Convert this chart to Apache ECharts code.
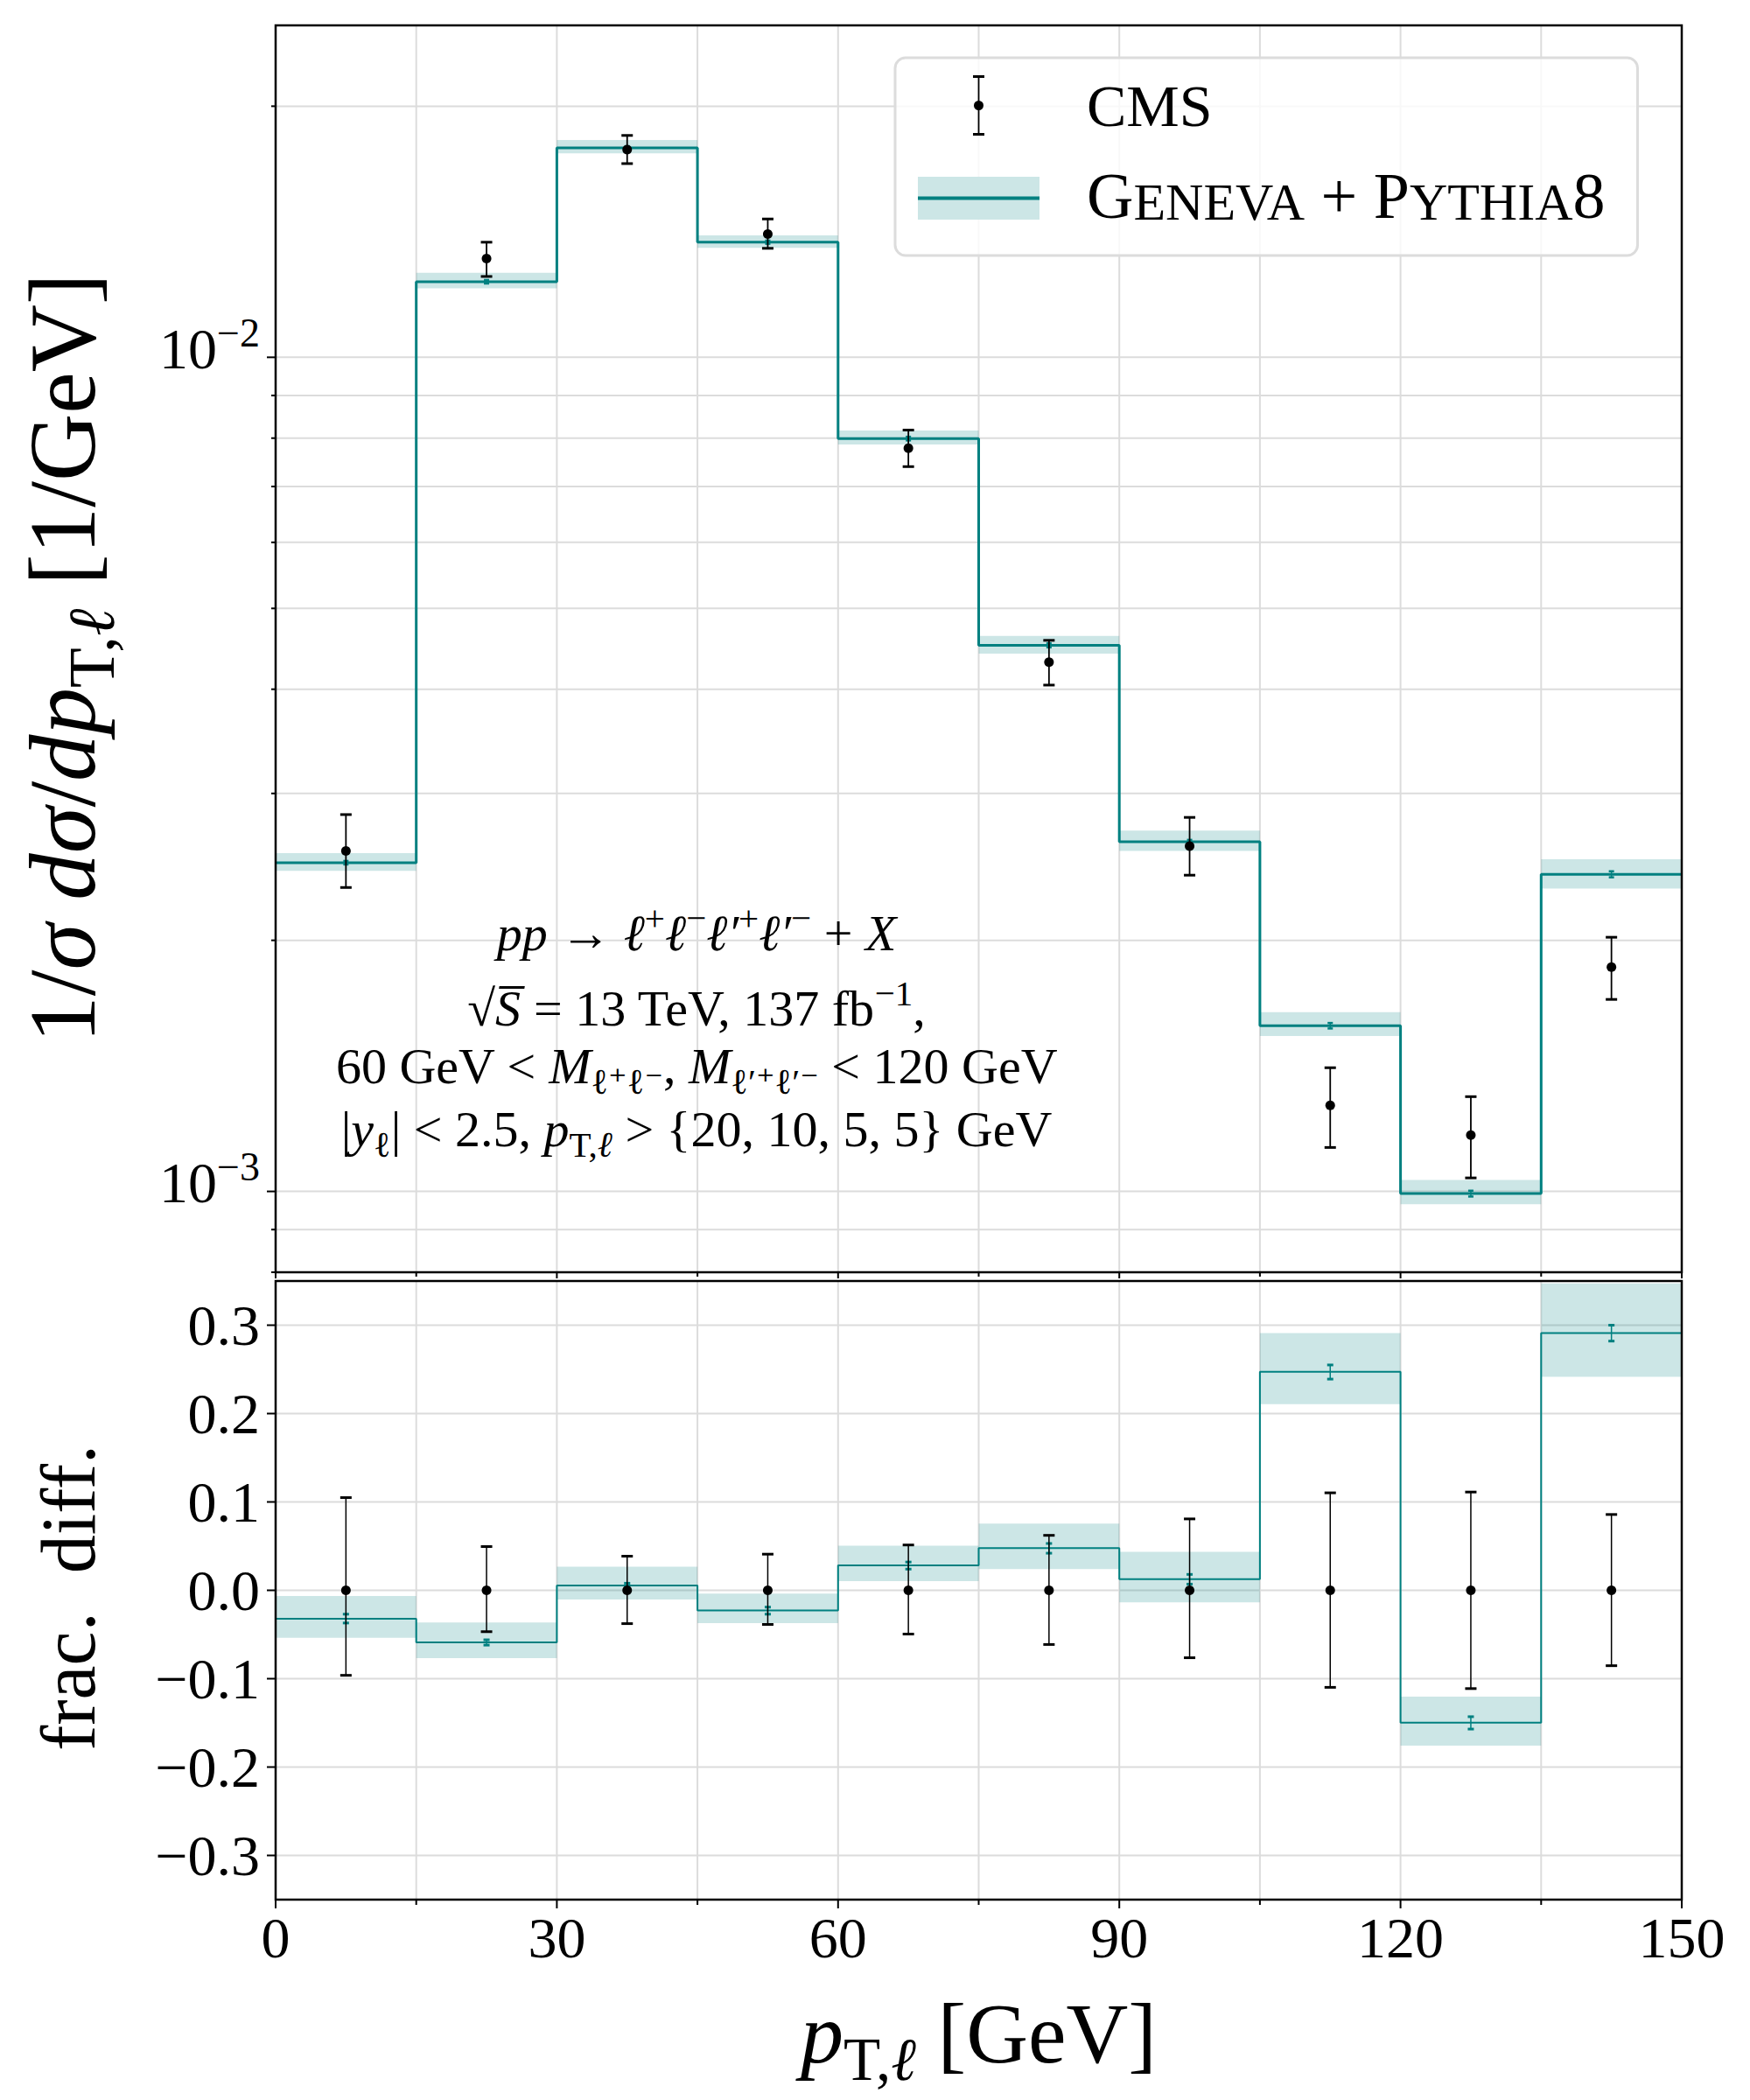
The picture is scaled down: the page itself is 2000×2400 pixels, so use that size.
<!DOCTYPE html>
<html><head><meta charset="utf-8">
<script src="https://cdn.jsdelivr.net/npm/echarts@6/dist/echarts.min.js"></script>
<style>html,body{margin:0;padding:0;background:#fff}#c{width:2000px;height:2400px}</style>
</head><body><div id="c"></div><script>
// ---------------- data ----------------
const binEdges   = [0, 15, 30, 45, 60, 75, 90, 105, 120, 135, 150];
const binCenters = [7.5, 22.5, 37.5, 52.5, 67.5, 82.5, 97.5, 112.5, 127.5, 142.5];

const cmsValues = [2.56e-3, 1.313e-2, 1.774e-2, 1.405e-2, 7.78e-3, 4.31e-3, 2.594e-3, 1.268e-3, 1.168e-3, 1.858e-3];
const cmsErrLo  = [2.314e-3, 1.250e-2, 1.707e-2, 1.351e-2, 7.395e-3, 4.046e-3, 2.394e-3, 1.129e-3, 1.038e-3, 1.699e-3];
const cmsErrHi  = [2.830e-3, 1.374e-2, 1.845e-2, 1.465e-2, 8.18e-3, 4.578e-3, 2.808e-3, 1.407e-3, 1.299e-3, 2.017e-3];

const genevaValues = [2.478e-3, 1.232e-2, 1.783e-2, 1.374e-2, 7.99e-3, 4.515e-3, 2.625e-3, 1.580e-3, 9.94e-4, 2.400e-3];
const genevaBandLo = [2.423e-3, 1.210e-2, 1.756e-2, 1.353e-2, 7.861e-3, 4.414e-3, 2.560e-3, 1.536e-3, 9.65e-4, 2.307e-3];
const genevaBandHi = [2.544e-3, 1.263e-2, 1.822e-2, 1.400e-2, 8.172e-3, 4.635e-3, 2.708e-3, 1.640e-3, 1.032e-3, 2.502e-3];
const genevaStatLo = [2.466e-3, 1.226e-2, 1.775e-2, 1.368e-2, 7.95e-3, 4.49e-3, 2.611e-3, 1.568e-3, 9.86e-4, 2.380e-3];
const genevaStatHi = [2.490e-3, 1.238e-2, 1.791e-2, 1.380e-2, 8.03e-3, 4.54e-3, 2.639e-3, 1.592e-3, 1.002e-3, 2.420e-3];

const ratioCms      = [0, 0, 0, 0, 0, 0, 0, 0, 0, 0];
const ratioCmsErrLo = [-0.0962, -0.0468, -0.0377, -0.0386, -0.0495, -0.0613, -0.0763, -0.1098, -0.1112, -0.0853];
const ratioCmsErrHi = [0.1049, 0.0495, 0.0386, 0.0409, 0.0513, 0.0622, 0.0808, 0.1103, 0.1112, 0.0858];
const ratioGeneva   = [-0.0322, -0.059, 0.0054, -0.0227, 0.0281, 0.0477, 0.0127, 0.2474, -0.1498, 0.291];
const ratioBandLo   = [-0.0536, -0.0767, -0.0104, -0.0372, 0.0104, 0.0241, -0.0136, 0.2106, -0.1757, 0.2415];
const ratioBandHi   = [-0.0064, -0.0363, 0.0268, -0.0036, 0.0504, 0.0754, 0.0436, 0.291, -0.1203, 0.3473];
const ratioStatLo   = [-0.037, -0.062, -0.002, -0.027, 0.024, 0.042, 0.007, 0.239, -0.157, 0.282];
const ratioStatHi   = [-0.027, -0.056, 0.008, -0.019, 0.032, 0.053, 0.018, 0.255, -0.143, 0.300];

const xMajorTicks    = [0, 30, 60, 90, 120, 150];
const xMinorTicks    = [15, 45, 75, 105, 135];
const yTopMajorTicks = [1e-3, 1e-2];
const yTopMinorTicks = [8e-4, 9e-4, 2e-3, 3e-3, 4e-3, 5e-3, 6e-3, 7e-3, 8e-3, 9e-3, 2e-2];
const yBottomTicks   = [-0.3, -0.2, -0.1, 0, 0.1, 0.2, 0.3];

const seriesNames = ['CMS', 'Geneva + Pythia8'];

// ---------------- style ----------------
const FF = "'Liberation Serif','DejaVu Serif','Times New Roman',serif";
const TEAL = '#008080';
const BAND = 'rgba(0,128,128,0.2)';
const GRID = '#dcdcdc';

// main tokens centred in a tall line; subscripts sit at the line bottom, superscripts at the top
function mathRich(F) {
  const H = Math.round(1.31 * F), f = Math.round(0.7 * F);
  const base = {fontFamily: FF, fill: '#000', color: '#000'};
  return {
    r:  Object.assign({}, base, {fontSize: F, lineHeight: H, verticalAlign: 'middle'}),
    i:  Object.assign({}, base, {fontSize: F, lineHeight: H, verticalAlign: 'middle', fontStyle: 'italic'}),
    b:  Object.assign({}, base, {fontSize: f, lineHeight: f, verticalAlign: 'bottom'}),
    bi: Object.assign({}, base, {fontSize: f, lineHeight: f, verticalAlign: 'bottom', fontStyle: 'italic'}),
    p:  Object.assign({}, base, {fontSize: f, lineHeight: f, verticalAlign: 'top'})
  };
}

// ---------------- helper series ----------------
function vLines(gi, yRef, values, tickLen) {
  return {type: 'custom', xAxisIndex: gi, yAxisIndex: gi, z: 1, silent: true,
    data: values.map(v => [v, yRef]),
    renderItem: (params, api) => {
      const cs = params.coordSys, x = api.coord([api.value(0), api.value(1)])[0], b = cs.y + cs.height;
      return {type: 'group', children: [
        {type: 'line', shape: {x1: x, y1: cs.y, x2: x, y2: b}, style: {stroke: GRID, lineWidth: 2}},
        {type: 'line', shape: {x1: x, y1: b, x2: x, y2: b + tickLen}, style: {stroke: '#000', lineWidth: 2}}
      ]};
    }};
}
function hLines(gi, xRef, values, tickLen) {
  return {type: 'custom', xAxisIndex: gi, yAxisIndex: gi, z: 1, silent: true,
    data: values.map(v => [xRef, v]),
    renderItem: (params, api) => {
      const cs = params.coordSys, y = api.coord([api.value(0), api.value(1)])[1];
      return {type: 'group', children: [
        {type: 'line', shape: {x1: cs.x, y1: y, x2: cs.x + cs.width, y2: y}, style: {stroke: GRID, lineWidth: 2}},
        {type: 'line', shape: {x1: cs.x - tickLen, y1: y, x2: cs.x, y2: y}, style: {stroke: '#000', lineWidth: 2}}
      ]};
    }};
}
function bandSeries(gi, lo, hi) {
  return {type: 'custom', xAxisIndex: gi, yAxisIndex: gi, z: 2, silent: true,
    encode: {x: [0, 1], y: [2, 3]},
    data: lo.map((l, i) => [binEdges[i], binEdges[i + 1], l, hi[i]]),
    renderItem: (params, api) => {
      const p1 = api.coord([api.value(0), api.value(3)]), p2 = api.coord([api.value(1), api.value(2)]);
      return {type: 'rect', shape: {x: p1[0], y: p1[1], width: p2[0] - p1[0], height: p2[1] - p1[1]}, style: {fill: BAND}};
    }};
}
function stepSeries(gi, values, width) {
  return {type: 'line', name: seriesNames[1], xAxisIndex: gi, yAxisIndex: gi, z: 3, step: 'end',
    showSymbol: false, symbol: 'none', silent: true, color: TEAL,
    lineStyle: {color: TEAL, width: width, opacity: 1},
    data: binEdges.map((e, i) => [e, values[Math.min(i, values.length - 1)]])};
}
function errSeries(gi, lo, hi, color, capHalf, capW, lw, z) {
  return {type: 'custom', xAxisIndex: gi, yAxisIndex: gi, z: z, silent: true,
    encode: {x: 0, y: [1, 2]},
    data: binCenters.map((x, i) => [x, lo[i], hi[i]]),
    renderItem: (params, api) => {
      const x = api.value(0);
      const a = api.coord([x, api.value(1)]), b = api.coord([x, api.value(2)]);
      return {type: 'group', children: [
        {type: 'line', shape: {x1: a[0], y1: a[1], x2: b[0], y2: b[1]}, style: {stroke: color, lineWidth: lw}},
        {type: 'line', shape: {x1: a[0] - capHalf, y1: a[1], x2: a[0] + capHalf, y2: a[1]}, style: {stroke: color, lineWidth: capW}},
        {type: 'line', shape: {x1: b[0] - capHalf, y1: b[1], x2: b[0] + capHalf, y2: b[1]}, style: {stroke: color, lineWidth: capW}}
      ]};
    }};
}
function dotSeries(gi, values) {
  return {type: 'scatter', name: seriesNames[0], xAxisIndex: gi, yAxisIndex: gi, z: 5, silent: true,
    symbol: 'circle', symbolSize: 11, itemStyle: {color: '#000', opacity: 1}, color: '#000',
    data: binCenters.map((x, i) => [x, values[i]])};
}
function frameSeries(gi, yRef) {
  return {type: 'custom', xAxisIndex: gi, yAxisIndex: gi, z: 6, silent: true,
    data: [[75, yRef]],
    renderItem: (params, api) => {
      const cs = params.coordSys;
      return {type: 'rect', shape: {x: cs.x, y: cs.y, width: cs.width, height: cs.height},
        style: {fill: 'none', stroke: '#000', lineWidth: 2.5}};
    }};
}

// ---------------- legend icons ----------------
function svgIcon(body) {
  return 'image://data:image/svg+xml;charset=utf-8,' + encodeURIComponent(
    "<svg xmlns='http://www.w3.org/2000/svg' width='188' height='69' viewBox='0 0 188 69'>" + body + "</svg>");
}
const cmsIcon = svgIcon(
  "<line x1='69.5' y1='1.5' x2='69.5' y2='67.5' stroke='black' stroke-width='1.8'/>" +
  "<line x1='63' y1='1.5' x2='76' y2='1.5' stroke='black' stroke-width='3'/>" +
  "<line x1='63' y1='67.5' x2='76' y2='67.5' stroke='black' stroke-width='3'/>" +
  "<circle cx='69.5' cy='34.5' r='5.5' fill='black'/>");
const genIcon = svgIcon(
  "<rect x='0' y='10' width='139' height='49' fill='rgb(204,230,230)'/>" +
  "<line x1='0' y1='34.5' x2='139' y2='34.5' stroke='" + TEAL + "' stroke-width='4'/>");

// ---------------- text ----------------
function mathText(x, y, F, text) {
  return {type: 'text', x: x, y: y, silent: true, z: 20,
    style: {text: text, rich: mathRich(F), fontSize: F, lineHeight: Math.round(1.31 * F), fontFamily: FF, fill: '#000',
      align: 'center', textAlign: 'center', verticalAlign: 'bottom', textVerticalAlign: 'bottom'}};
}
function rotText(x, y, F, text) {
  return {type: 'text', x: x, y: y, rotation: Math.PI / 2, silent: true, z: 20,
    style: {text: text, rich: mathRich(F), fontSize: F, lineHeight: Math.round(1.31 * F), fontFamily: FF, fill: '#000', x: 0, y: 0,
      align: 'center', textAlign: 'center', verticalAlign: 'middle', textVerticalAlign: 'middle'}};
}
const annF = 58;
const annLines = [
  '{i|pp}{r| → }{i|ℓ}{p|+}{i|ℓ}{p|−}{i|ℓ′}{p|+}{i|ℓ′}{p|−}{r| + }{i|X}',
  '{r|√}{i|S̅}{r| = 13 TeV, 137 fb}{p|−1}{r|,}',
  '{r|60 GeV < }{i|M}{b|ℓ⁺ℓ⁻}{r|, }{i|M}{b|ℓ′⁺ℓ′⁻}{r| < 120 GeV}',
  '{r||}{i|y}{b|ℓ}{r|| < 2.5, }{i|p}{b|T,}{bi|ℓ}{r| > {20, 10, 5, 5}' + '}' + '{r| GeV}'
];
const annBaselines = [1086, 1172, 1238, 1310];

const graphicEls = [];
annLines.forEach((t, i) => graphicEls.push(mathText(796, annBaselines[i] + Math.round(0.305 * annF), annF, t)));
graphicEls.push(rotText(72, 752, 107, '{r|1/}{i|σ dσ}{r|/}{i|dp}{b|T,}{bi|ℓ}{r| [1/GeV]}'));
graphicEls.push(rotText(78, 1826, 88, '{r|frac.  diff.}'));

// ---------------- chart ----------------
const chart = echarts.init(document.getElementById('c'), null, {renderer: 'svg', width: 2000, height: 2400});
const axisCommon = {axisLine: {show: false}, axisTick: {show: false}, splitLine: {show: false}, minorTick: {show: false}};
const labelBase = {color: '#000', fontFamily: FF, fontSize: 66, lineHeight: 66};

chart.setOption({
  animation: false,
  backgroundColor: '#fff',
  textStyle: {fontFamily: FF},
  grid: [
    {left: 315, top: 29, width: 1607, height: 1425, containLabel: false, outerBoundsMode: 'none', show: false},
    {left: 315, top: 1464, width: 1607, height: 707, containLabel: false, outerBoundsMode: 'none', show: false}
  ],
  xAxis: [
    Object.assign({gridIndex: 0, type: 'value', min: 0, max: 150, interval: 30, axisLabel: {show: false}}, axisCommon),
    Object.assign({gridIndex: 1, type: 'value', min: 0, max: 150, interval: 30,
      axisLabel: Object.assign({show: true, margin: 10}, labelBase),
      name: '{i|p}{b|T,}{bi|ℓ}{r| [GeV]}', nameLocation: 'middle', nameGap: 89,
      nameTextStyle: {fontFamily: FF, fontSize: 98, lineHeight: 128, color: '#000', rich: mathRich(98)}}, axisCommon)
  ],
  yAxis: [
    Object.assign({gridIndex: 0, type: 'log', logBase: 10, min: 0.0008, max: 0.025,
      axisLabel: {show: true, margin: 18, showMinLabel: false, showMaxLabel: false, color: '#000', fontFamily: FF,
        formatter: v => {
          const e = Math.log10(v), r = Math.round(e);
          if (Math.abs(e - r) > 1e-6 || v < 0.00085 || v > 0.024) return '';
          return '{b|10}{e|' + (r < 0 ? '−' : '') + Math.abs(r) + '}';
        },
        rich: {
          b: {fontSize: 66, lineHeight: 66, fontFamily: FF, color: '#000', padding: [10, 0, 10, 0], verticalAlign: 'bottom'},
          e: {fontSize: 46, lineHeight: 46, fontFamily: FF, color: '#000', padding: [0, 0, 38, 0], verticalAlign: 'bottom'}
        }}}, axisCommon),
    Object.assign({gridIndex: 1, type: 'value', min: -0.35, max: 0.35, interval: 0.05,
      axisLabel: Object.assign({show: true, margin: 18,
        formatter: v => {
          const t = v * 10;
          if (Math.abs(t - Math.round(t)) > 1e-6 || Math.abs(v) > 0.31) return '';
          return (v < -1e-9 ? '−' : '') + Math.abs(v).toFixed(1);
        }}, labelBase)}, axisCommon)
  ],
  legend: {
    show: true, orient: 'vertical', left: 1023, top: 66, padding: [20, 37, 31, 26], itemGap: 32,
    itemWidth: 188, itemHeight: 69, selectedMode: false, z: 8,
    backgroundColor: 'rgba(255,255,255,0.8)', borderColor: '#dcdcdc', borderWidth: 3, borderRadius: 12,
    data: [{name: seriesNames[0], icon: cmsIcon}, {name: seriesNames[1], icon: genIcon}],
    formatter: name => name === seriesNames[0] ? 'CMS' : '{L|G}{s|ENEVA}{L| + P}{s|YTHIA}{L|8}',
    textStyle: {fontFamily: FF, fontSize: 68, lineHeight: 69, color: '#000',
      rich: {
        L: {fontFamily: FF, fontSize: 74, lineHeight: 69, color: '#000', verticalAlign: 'bottom'},
        s: {fontFamily: FF, fontSize: 60, lineHeight: 59, color: '#000', verticalAlign: 'bottom'}
      }}
  },
  graphic: {elements: graphicEls},
  series: [
    vLines(0, 1e-3, xMajorTicks, 7), vLines(0, 1e-3, xMinorTicks, 5),
    hLines(0, 0, yTopMajorTicks, 10), hLines(0, 0, yTopMinorTicks, 5),
    bandSeries(0, genevaBandLo, genevaBandHi),
    stepSeries(0, genevaValues, 3),
    errSeries(0, genevaStatLo, genevaStatHi, TEAL, 3, 2.5, 1.5, 4),
    errSeries(0, cmsErrLo, cmsErrHi, '#000', 6.5, 3, 1.8, 4),
    dotSeries(0, cmsValues),
    frameSeries(0, 1e-3),

    vLines(1, 0, xMajorTicks, 10), vLines(1, 0, xMinorTicks, 6),
    hLines(1, 0, yBottomTicks, 10),
    bandSeries(1, ratioBandLo, ratioBandHi),
    stepSeries(1, ratioGeneva, 2),
    errSeries(1, ratioStatLo, ratioStatHi, TEAL, 3.5, 3, 1.5, 4),
    errSeries(1, ratioCmsErrLo, ratioCmsErrHi, '#000', 6.5, 3, 1.5, 4),
    dotSeries(1, ratioCms),
    frameSeries(1, 0)
  ]
});
</script></body></html>
